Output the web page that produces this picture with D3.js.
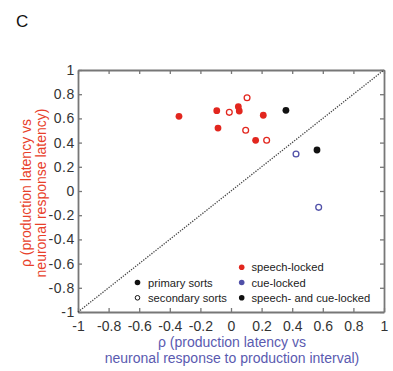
<!DOCTYPE html>
<html>
<head>
<meta charset="utf-8">
<script src="https://cdn.jsdelivr.net/npm/d3@7"></script>
<style>
  body { margin: 0; background: #fff; }
  text { font-family: Arial, "Liberation Sans", sans-serif; }
</style>
</head>
<body>
<div id="chart"></div>
<script>
var ticks = [-1, -0.8, -0.6, -0.4, -0.2, 0, 0.2, 0.4, 0.6, 0.8, 1];

// speech-locked, cue-locked, and both; filled = primary sort, 0 = secondary
var speechX  = [-0.34, -0.093, -0.085, -0.011, 0.048, 0.054, 0.105, 0.096, 0.211, 0.161, 0.233];
var speechY  = [0.617, 0.664, 0.52, 0.65, 0.697, 0.661, 0.771, 0.502, 0.626, 0.419, 0.419];
var speechFilled = [1, 1, 1, 0, 1, 1, 0, 0, 1, 1, 0];
var cueX = [0.425, 0.573];
var cueY = [0.306, -0.135];
var cueFilled = [0, 0];
var bothX = [0.359, 0.562];
var bothY = [0.667, 0.339];
var bothFilled = [1, 1];

var w = 393, h = 371;
var pLeft = 78, pRight = 384, pTop = 70, pBottom = 312;

var svg = d3.select('#chart').append('svg')
  .attr('width', w)
  .attr('height', h);

var x = d3.scaleLinear().domain([-1, 1]).range([pLeft, pRight]);
var y = d3.scaleLinear().domain([-1, 1]).range([pBottom, pTop]);

var fmt = function(d) { return d === 0 ? '0' : String(d); };

// frame + inward ticks on all sides
var axes = [
  [d3.axisBottom(x), 'translate(0,' + pBottom + ')', 9],
  [d3.axisTop(x), 'translate(0,' + pTop + ')', 8],
  [d3.axisLeft(y), 'translate(' + pLeft + ',0)', 3],
  [d3.axisRight(y), 'translate(' + pRight + ',0)', 8]
];
axes.forEach(function(a, i) {
  var g = svg.append('g').attr('transform', a[1])
    .call(a[0].tickValues(ticks).tickSize(-4).tickSizeOuter(0).tickPadding(a[2]).tickFormat(fmt));
  g.select('.domain').attr('stroke', '#777').attr('stroke-width', 1.8);
  g.selectAll('.tick line').attr('stroke', '#777').attr('stroke-width', 1.3);
  g.selectAll('.tick text')
    .attr('fill', '#333')
    .style('font-size', '14px')
    .style('font-family', 'Arial, "Liberation Sans", sans-serif');
  if (i === 2) g.selectAll('.tick text').attr('x', -3).style('letter-spacing', '0.6px');
  if (i === 1 || i === 3) g.selectAll('.tick text').remove();
});

// diagonal unity line
svg.append('line')
  .attr('x1', x(-1)).attr('y1', y(-1))
  .attr('x2', x(1)).attr('y2', y(1))
  .attr('stroke', '#444')
  .attr('stroke-width', 1.3)
  .attr('stroke-dasharray', '1.3,1.3');

function plot(xs, ys, filled, col) {
  xs.forEach(function(v, i) {
    var c = svg.append('circle')
      .attr('cx', x(v))
      .attr('cy', y(ys[i]))
      .attr('r', filled[i] ? 3.4 : 2.9);
    if (filled[i]) c.attr('fill', col);
    else c.attr('fill', 'none').attr('stroke', col).attr('stroke-width', 1.3);
  });
}
plot(speechX, speechY, speechFilled, '#e2261e');
plot(cueX, cueY, cueFilled, '#5050a8');
plot(bothX, bothY, bothFilled, '#111');

// legend
var leg = svg.append('g').style('font-size', '11.2px').attr('fill', '#222');
var legL = [['primary sorts', true], ['secondary sorts', false]];
legL.forEach(function(d, i) {
  var yy = 282.5 + i * 15.3;
  if (d[1]) leg.append('circle').attr('cx', 137.5).attr('cy', yy).attr('r', 2.8).attr('fill', '#111');
  else leg.append('circle').attr('cx', 137.5).attr('cy', yy).attr('r', 2.3).attr('fill', 'none').attr('stroke', '#111').attr('stroke-width', 1);
  leg.append('text').attr('x', 148).attr('y', yy + 4).text(d[0]);
});
var legR = [['speech-locked', '#e2261e'], ['cue-locked', '#5050a8'], ['speech- and cue-locked', '#111']];
legR.forEach(function(d, i) {
  var yy = 267.3 + i * 15.2;
  leg.append('circle').attr('cx', 241.7).attr('cy', yy).attr('r', 2.8).attr('fill', d[1]);
  leg.append('text').attr('x', 251.5).attr('y', yy + 4).text(d[0]);
});

// axis labels
var xl = svg.append('text')
  .attr('text-anchor', 'middle')
  .attr('fill', '#5a5ab0')
  .style('font-size', '14px');
xl.append('tspan').attr('x', 232).attr('y', 347).text('ρ (production latency vs');
xl.append('tspan').attr('x', 232).attr('y', 363).text('neuronal response to production interval)');

var yl = svg.append('text')
  .attr('text-anchor', 'middle')
  .attr('fill', '#e8402a')
  .attr('transform', 'translate(0,' + 193 + ') rotate(-90)')
  .style('font-size', '14px');
yl.append('tspan').attr('x', 0).attr('y', 30.5).text('ρ (production latency vs');
yl.append('tspan').attr('x', 0).attr('y', 45.5).text('neuronal response latency)');

// panel letter
svg.append('text')
  .attr('x', 16).attr('y', 27)
  .attr('fill', '#111')
  .style('font-size', '17px')
  .text('C');
</script>
</body>
</html>
